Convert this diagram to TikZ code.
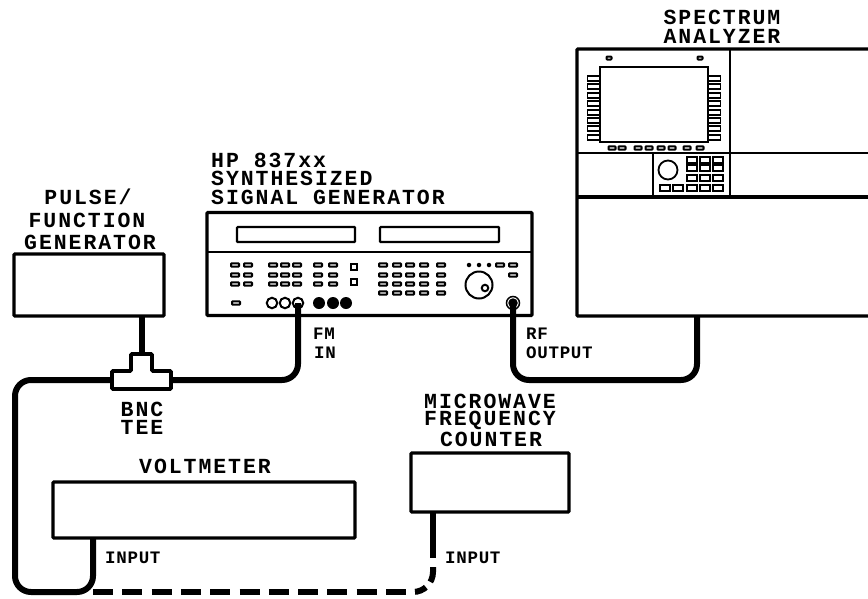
\documentclass[tikz,border=0pt]{standalone}
\usepackage{fontspec}
\newfontfamily\lblfont{Liberation Mono}[BoldFont={Liberation Mono Bold}]
\usetikzlibrary{calc}
\tikzset{
  x=1pt,y=-1pt,
  box/.style={draw,line width=3.2pt,inner sep=0pt,outer sep=0pt,rounded corners=1pt,fill=white},
  thin box/.style={draw,line width=2.2pt,inner sep=0pt,outer sep=0pt,rounded corners=.8pt},
  key/.style={draw,line width=2pt,inner sep=0pt,minimum width=8pt,minimum height=3.4pt,rounded corners=.8pt},
  keyb/.style={draw,line width=1.6pt,inner sep=0pt,minimum width=10pt,minimum height=6pt},
  tab/.style={draw,line width=1.9pt,inner sep=0pt,minimum width=13pt,minimum height=5pt,fill=white},
  title/.style={inner sep=0pt,font=\lblfont\fontsize{21.5}{21.5}\selectfont\bfseries\addfontfeature{LetterSpace=9}},
  small/.style={inner sep=0pt,font=\lblfont\fontsize{17.5}{17.5}\selectfont\bfseries\addfontfeature{LetterSpace=4}},
  cable/.style={line width=6pt,rounded corners=16pt},
  hole/.style={circle,draw,line width=2pt,inner sep=0pt,minimum size=10.5pt},
  blob/.style={circle,fill,inner sep=0pt,minimum size=12pt},
}
\begin{document}
\begin{tikzpicture}
\useasboundingbox (0,0) rectangle (868,598);
% Signal generator
\node[box,minimum width=325pt,minimum height=103pt] (gen) at (369.5,264) {};
\draw[line width=1.6pt] (208,252) -- (531,252);
\node[thin box,minimum width=118pt,minimum height=15pt] (d1) at (296,234.5) {};
\node[thin box,minimum width=119pt,minimum height=15pt] (d2) at (439.5,234.5) {};
\foreach \i/\x/\y in {a/235/265,b/248/265,c/235/275,d/248/275,e/235/284,f/248/284,
  g/273/265,h/285/265,i/297/265,j/273/275,k/285/275,l/297/275,m/273/284,n/285/284,o/297/284,
  p/318/265,q/333/265,r/318/275,s/333/275,t/318/284,u/333/284,
  A/383/265,B/397/265,C/410/265,D/424/265,E/441/265,
  F/383/275,G/397/275,H/410/275,I/424/275,J/441/275,
  K/383/284,L/397/284,M/410/284,N/424/284,O/441/284,
  P/383/293,Q/397/293,R/410/293,S/424/293,T/441/293,
  U/236/303,V/500/265,W/513/265,X/513/275}
  \node[key] (k\i) at (\x,\y) {};
\node[draw,line width=2pt,inner sep=0pt,minimum size=6pt] (sq1) at (354,267) {};
\node[draw,line width=2pt,inner sep=0pt,minimum size=6pt] (sq2) at (354,282) {};
\foreach \i/\x in {a/469,b/479,c/489}
  \node[circle,fill,inner sep=0pt,minimum size=4.5pt] (dot\i) at (\x,265) {};
\node[circle,draw,line width=2pt,inner sep=0pt,minimum size=27pt] (knob) at (479,285) {};
\node[circle,draw,fill=white,line width=2pt,inner sep=0pt,minimum size=6.5pt] (knobm) at (485,288) {};
\node[hole] (c1) at (272,303) {};
\node[hole] (c2) at (285,303) {};
\node[hole] (c3) at (298,303) {};
\node[blob] (b1) at (319,303) {};
\node[blob] (b2) at (333,303) {};
\node[blob] (b3) at (346,303) {};
\node[circle,draw,line width=1.5pt,inner sep=0pt,minimum size=13pt] (rfring) at (513,303) {};
\node[circle,fill,inner sep=0pt,minimum size=9.5pt] (rf) at (513,303) {};
% Spectrum analyzer
\node[box,minimum width=300pt,minimum height=267pt,anchor=north west] (sa) at (577,49) {};
\draw[line width=2.4pt] (730,49) -- (730,197);
\draw[line width=1.8pt] (577,153) -- (868,153);
\draw[line width=3.5pt] (577,197) -- (868,197);
\draw[line width=2.2pt] (653,153) -- (653,197);
\foreach \n in {0,...,7}{
  \node[tab] (tl\n) at (594,{78.5+8.4*\n}) {};
  \node[tab] (tr\n) at (714,{78.5+8.4*\n}) {};
}
\node[draw,line width=2.4pt,fill=white,inner sep=0pt,minimum width=108pt,minimum height=75pt] (scr) at (654,104.5) {};
\node[key,minimum width=5pt,minimum height=3pt] (top1) at (609,58) {};
\node[key,minimum width=5pt,minimum height=3pt] (top2) at (700,58) {};
\foreach \n/\x in {0/612,1/622,2/638,3/649,4/661,5/672,6/687,7/700}
  \node[key,minimum width=7pt] (bt\n) at (\x,148) {};
\node[circle,draw,line width=1.8pt,inner sep=0pt,minimum size=19pt] (saknob) at (668,170) {};
\foreach \i/\x/\y in {a/692/160,b/705/160,c/718/160,d/692/168,e/705/168,f/718/168,
  g/692/178,h/705/178,i/718/178,j/665/188,k/678/188,l/692/188,m/705/188,n/718/188}
  \node[keyb] (sk\i) at (\x,\y) {};
% Other instruments
\node[box,minimum width=150pt,minimum height=62pt,anchor=north west] (pg) at (14,254) {};
\node[box,minimum width=302pt,minimum height=56pt,anchor=north west] (vm) at (53,482) {};
\node[box,minimum width=158pt,minimum height=59pt,anchor=north west] (fc) at (411,453) {};
% Named ports
\coordinate (fmport) at (c3.center);
\coordinate (rfport) at (rf.center);
\coordinate (rfin) at (697,316);
\coordinate (teeL) at (112,380);
\coordinate (teeR) at (171,380);
\coordinate (teeT) at (142,354);
\coordinate (pgout) at (142,316);
\coordinate (vmin) at (93,538);
\coordinate (fcin) at (433,512);
\coordinate (dashA) at (413,592);
\coordinate (dashB) at (433,572);
\coordinate (dashC) at (433,567);
% Cables
\draw[line width=6pt] (pgout) -- (teeT);
\draw[cable] (fmport) -- (298,380) -- (teeR);
\draw[cable] (rfport) -- (513,380) -- (697,380) -- (rfin);
\draw[cable] (teeL) -- (15,380) -- (15,592) -- (93,592) -- (vmin);
\draw[line width=6pt,dash pattern=on 20pt off 9.3pt] (93,592) -- (dashA);
\draw[line width=6pt,dash pattern=on 0pt off 2pt on 12pt off 7pt on 30pt] (dashA) .. controls (424,592) and (433,583) .. (dashB) -- (dashC);
\draw[line width=6pt] (fcin) -- (433,558);
% Tee
\draw[line width=3.6pt,fill=white,rounded corners=1pt] (112,371) -- (131,371) -- (131,354) -- (152,354) -- (152,371) -- (171,371) -- (171,389) -- (112,389) -- cycle;
% Labels
\node[title,anchor=west] (t1) at (211,160.5) {HP 837xx};
\node[title,anchor=west] (t2) at (211,178.5) {SYNTHESIZED};
\node[title,anchor=west] (t3) at (211,197) {SIGNAL GENERATOR};
\node[title] (t4) at (88,197) {PULSE/};
\node[title] (t5) at (87,220.5) {FUNCTION};
\node[title] (t6) at (90,242) {GENERATOR};
\node[title] (t7) at (722,17.5) {SPECTRUM};
\node[title] (t8) at (722,36) {ANALYZER};
\node[title] (t9) at (205,466) {VOLTMETER};
\node[title] (t10) at (490,401.5) {MICROWAVE};
\node[title] (t11) at (490,420) {FREQUENCY};
\node[title] (t12) at (491,439) {COUNTER};
\node[title] (t13) at (142,409) {BNC};
\node[title] (t14) at (142,427) {TEE};
\node[small,anchor=west] (l1) at (313,334) {FM};
\node[small,anchor=west] (l2) at (314,353) {IN};
\node[small,anchor=west] (l3) at (526,334) {RF};
\node[small,anchor=west] (l4) at (526,353) {OUTPUT};
\node[small,anchor=west] (l5) at (105,558) {INPUT};
\node[small,anchor=west] (l6) at (445,558) {INPUT};
\end{tikzpicture}
\end{document}
